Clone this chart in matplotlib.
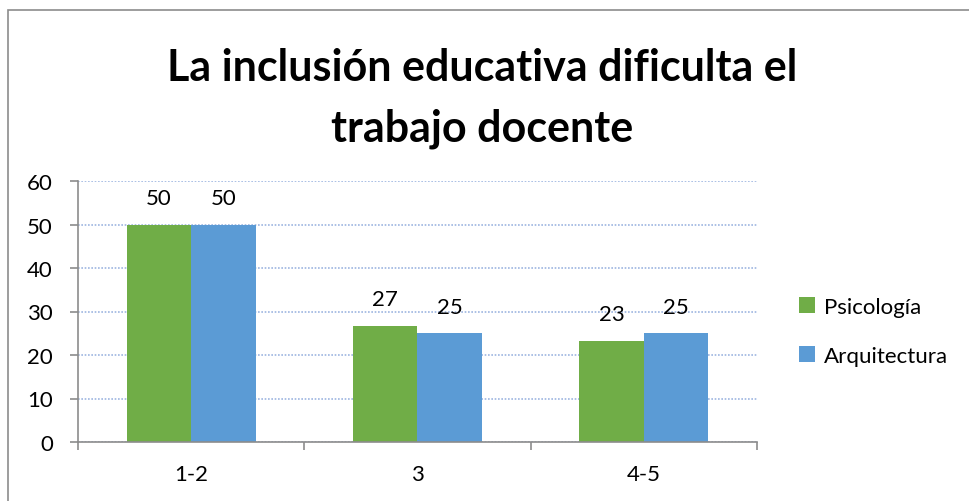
import numpy as np
import matplotlib.pyplot as plt
from matplotlib.patches import Rectangle

plt.rcParams['font.family'] = ['Lato', 'DejaVu Sans']

categories = ['1-2', '3', '4-5']
psicologia = [50.0, 26.7, 23.3]
arquitectura = [50.0, 25.0, 25.0]
psicologia_labels = ['50', '27', '23']
arquitectura_labels = ['50', '25', '25']
series_names = ['Psicología', 'Arquitectura']
colours = ['#70AD47', '#5B9BD5']

fig = plt.figure(figsize=(9.7, 5.02), dpi=100)
ax = fig.add_axes([78/970, 1 - 443/502, (757 - 78)/970, (443 - 182)/502])

# outer chart border (only top/left visible in the reference)
fig.patches.append(Rectangle((8/970, -0.1), 1.2, 1 - 11/502 + 0.1,
                             transform=fig.transFigure, fill=False,
                             edgecolor='#8C8C8C', lw=1.2))

fs = 16
x = np.arange(len(categories))
w = 0.285
b1 = ax.bar(x - w/2, psicologia, w, color=colours[0], label=series_names[0])
b2 = ax.bar(x + w/2, arquitectura, w, color=colours[1], label=series_names[1])

for bars, labs in ((b1, psicologia_labels), (b2, arquitectura_labels)):
    for r, lab in zip(bars, labs):
        ax.annotate(lab, (r.get_x() + r.get_width()/2, r.get_height()),
                    xytext=(0, 19), textcoords='offset points',
                    ha='center', va='center', fontsize=fs)

ax.set_xlim(-0.5, 2.5)
ax.set_ylim(0, 60)
ax.set_yticks(range(0, 61, 10))
ax.set_xticks(x)
ax.set_xticklabels(categories)
ax.set_xticks([-0.5, 0.5, 1.5, 2.5], minor=True)
ax.tick_params(axis='x', which='major', length=0, pad=16, labelsize=fs)
ax.tick_params(axis='x', which='minor', length=6, color='#8C8C8C', width=1.2)
ax.tick_params(axis='y', length=6, color='#8C8C8C', width=1.2, pad=12,
               labelsize=fs)

ax.yaxis.grid(True, linestyle=(0, (1, 1)), color='#9DB5E0', lw=1.2)
ax.set_axisbelow(True)
for s in ('top', 'right'):
    ax.spines[s].set_visible(False)
for s in ('left', 'bottom'):
    ax.spines[s].set_color('#8C8C8C')
    ax.spines[s].set_linewidth(1.2)

fig.text(0.497, 1 - 68/502, 'La inclusión educativa dificulta el',
         ha='center', va='center', fontsize=31, fontweight='bold')
fig.text(0.497, 1 - 129/502, 'trabajo docente',
         ha='center', va='center', fontsize=31, fontweight='bold')

ax.legend(loc='center left', bbox_to_anchor=(1.033, 0.424), frameon=False,
          fontsize=fs, handlelength=0.7, handleheight=0.7,
          handletextpad=0.4, labelspacing=1.3)

fig.savefig('out.png', dpi=100)
